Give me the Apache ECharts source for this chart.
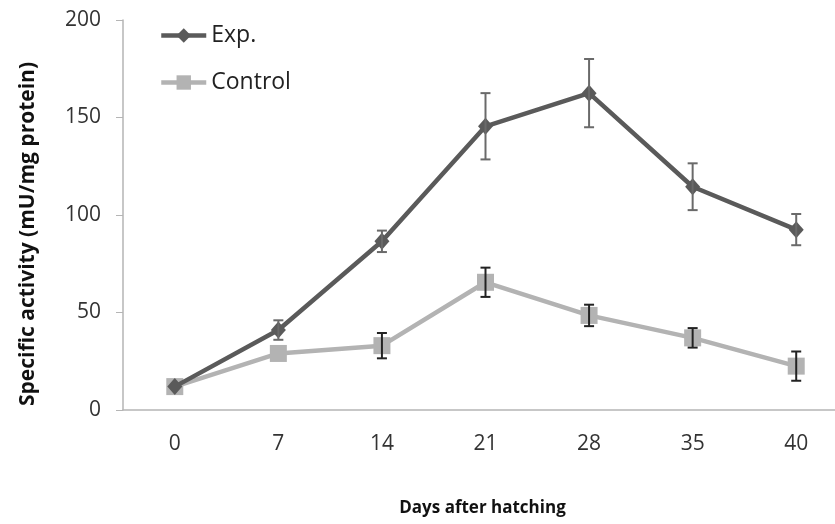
<!DOCTYPE html>
<html>
<head>
<meta charset="utf-8">
<script src="https://cdn.jsdelivr.net/npm/echarts@6/dist/echarts.min.js"></script>
<style>
html,body{margin:0;padding:0;background:#fff;overflow:hidden;width:835px;height:524px;}
#chart{width:848px;height:524px;}
</style>
</head>
<body>
<div id="chart"></div>
<script>
var days = ['0', '7', '14', '21', '28', '35', '40'];
var expMean = [12, 41, 86.5, 145.5, 162.5, 114.5, 92.5];
var expErr = [0, 5, 5.5, 17, 17.5, 12, 8];
var ctrlMean = [12, 29, 33, 65.5, 48.5, 37, 22.5];
var ctrlErr = [0, 0, 6.5, 7.5, 5.5, 5, 7.5];
var yTicks = [0, 50, 100, 150, 200];

var font = '"Open Sans", "Noto Sans", sans-serif';

function errData(mean, err) {
  return mean.map(function (m, i) { return [i, m - err[i], m + err[i]]; });
}

function errSeries(name, mean, err, color) {
  return {
    type: 'custom',
    name: name + ' err',
    silent: true,
    z: 5,
    data: errData(mean, err),
    renderItem: function (params, api) {
      var x = api.value(0);
      var lo = api.coord([x, api.value(1)]);
      var hi = api.coord([x, api.value(2)]);
      if (Math.abs(hi[1] - lo[1]) < 1) return null;
      var hw = 5;
      var st = { stroke: color, lineWidth: 2 };
      return {
        type: 'group',
        children: [
          { type: 'line', shape: { x1: lo[0], y1: lo[1], x2: hi[0], y2: hi[1] }, style: st },
          { type: 'line', shape: { x1: lo[0] - hw, y1: lo[1], x2: lo[0] + hw, y2: lo[1] }, style: st },
          { type: 'line', shape: { x1: hi[0] - hw, y1: hi[1], x2: hi[0] + hw, y2: hi[1] }, style: st }
        ]
      };
    }
  };
}

var chart = echarts.init(document.getElementById('chart'));
chart.setOption({
  animation: false,
  backgroundColor: '#fff',
  grid: { left: 123, right: 0, top: 20, bottom: 114, containLabel: false },
  legend: {
    orient: 'vertical',
    left: 159,
    top: 24,
    padding: 0,
    itemWidth: 45,
    itemHeight: 18,
    itemGap: 24,
    lineStyle: { width: 4.5 },
    textStyle: { fontFamily: font, fontSize: 23, color: '#222' },
    data: ['Exp.', 'Control']
  },
  xAxis: {
    type: 'category',
    data: days,
    boundaryGap: true,
    axisLine: { lineStyle: { color: '#b5b5b5', width: 1.5 } },
    axisTick: { show: false },
    axisLabel: { fontFamily: font, fontSize: 21, color: '#333', margin: 24 },
    name: 'Days after hatching',
    nameLocation: 'middle',
    nameGap: 90,
    nameTextStyle: { fontFamily: font, fontSize: 17, fontWeight: 'bold', color: '#111', padding: [0, 6, 0, 0] }
  },
  yAxis: {
    type: 'value',
    min: 0,
    max: 200,
    interval: 50,
    splitLine: { show: false },
    axisLine: { show: true, lineStyle: { color: '#b5b5b5', width: 1.5 } },
    axisTick: { show: true, inside: false, length: 7, lineStyle: { color: '#b5b5b5' } },
    axisLabel: {
      fontFamily: font, fontSize: 21, color: '#333', margin: 22,
      formatter: function (v) { return yTicks.indexOf(v) >= 0 ? String(v) : ''; }
    },
    name: 'Specific activity (mU/mg protein)',
    nameLocation: 'middle',
    nameGap: 84,
    nameRotate: 90,
    nameTextStyle: { fontFamily: font, fontSize: 21, fontWeight: 'bold', color: '#111', padding: [0, 38, 0, 0] }
  },
  series: [
    {
      name: 'Control',
      type: 'line',
      data: ctrlMean,
      symbol: 'rect',
      symbolSize: 17,
      z: 3,
      lineStyle: { color: '#b3b3b3', width: 4.5 },
      itemStyle: { color: '#b3b3b3' }
    },
    {
      name: 'Exp.',
      type: 'line',
      data: expMean,
      symbol: 'diamond',
      symbolSize: [15, 17],
      z: 4,
      lineStyle: { color: '#5a5a5a', width: 4.5 },
      itemStyle: { color: '#5a5a5a' }
    },
    errSeries('Control', ctrlMean, ctrlErr, '#222'),
    errSeries('Exp.', expMean, expErr, '#6a6a6a')
  ]
});
</script>
</body>
</html>
